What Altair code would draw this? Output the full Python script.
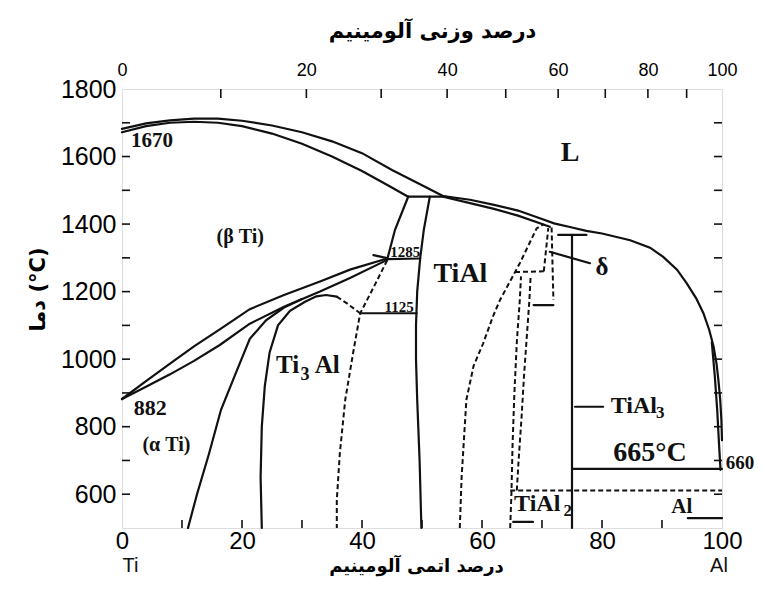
import altair as alt
import pandas as pd

W, H = 600, 439

# ---------------- phase-boundary curves (atomic % Al, temperature in °C) ----------------
liq_ti_a = [0, 4, 8, 12, 16, 20, 25, 30, 35, 40, 45, 50, 53.5]
liq_ti_T = [1682, 1698, 1707, 1712, 1712, 1706, 1692, 1672, 1645, 1610, 1560, 1515, 1483]
sol_b_a = [0, 4, 8, 12, 16, 20, 25, 30, 35, 40, 44, 47.7]
sol_b_T = [1672, 1690, 1700, 1703, 1700, 1690, 1668, 1638, 1600, 1557, 1518, 1481]
perit_a = [47.7, 54]
perit_T = [1481, 1481]
liq_al_a = [53.5, 58, 62, 66, 70, 72, 75, 77.4, 80, 84.7, 88, 90.2, 92.5, 94.1, 95.7,
            96.9, 97.9, 98.6, 99.1, 99.4, 99.7, 99.9, 100]
liq_al_T = [1483, 1472, 1457, 1440, 1415, 1402, 1390, 1380, 1372, 1352, 1330, 1303, 1265,
            1225, 1180, 1136, 1085, 1037, 985, 938, 880, 820, 760]
sol_g_a = [53.5, 58, 62, 66, 70, 71.3]
sol_g_T = [1481, 1462, 1445, 1425, 1400, 1392]
al_solv_a = [98.3, 98.8, 99.2, 99.5, 99.75]
al_solv_T = [1050, 950, 850, 750, 672]
tial3_a = [75, 75]
tial3_T = [500, 1368]
tial3_top_a = [72.7, 77.4]
tial3_top_T = [1368, 1368]
line665_a = [75, 100]
line665_T = [675, 675]
beta_alpha_a = [47.7, 45.5, 44.2]
beta_alpha_T = [1481, 1383, 1295]
tial_left_a = [51.3, 50.3, 49.7, 49.2, 49.0, 49.0, 49.2, 49.6, 49.9]
tial_left_T = [1481, 1383, 1299, 1200, 1100, 1000, 880, 700, 500]
line1285_a = [44.2, 49.7]
line1285_T = [1296, 1298]
line1125_a = [39.7, 49.1]
line1125_T = [1136, 1136]
beta_up_a = [0, 4, 8, 12, 16.3, 21.3, 27, 33, 38, 44.2]
beta_up_T = [882, 935, 987, 1038, 1088, 1148, 1190, 1230, 1265, 1298]
beta_lo_a = [0, 4, 8, 12, 16.3, 21.3, 27, 33, 38, 44.2]
beta_lo_T = [882, 918, 955, 995, 1042, 1105, 1155, 1200, 1240, 1294]
a2_out_a = [11, 12.5, 14.5, 16.5, 19, 21.3, 24, 27, 30]
a2_out_T = [500, 600, 720, 850, 960, 1060, 1115, 1153, 1178]
a2_in_a = [23.3, 23.1, 23.3, 23.8, 24.6, 26, 28, 30.5, 32.4, 34, 35.8]
a2_in_T = [500, 650, 800, 920, 1020, 1100, 1143, 1170, 1186, 1190, 1185]
bracket_a = [68.6, 71.9]
bracket_T = [1160, 1160]
delta_arr_a = [71.3, 78]
delta_arr_T = [1318, 1284]
tial3_arr_a = [75.5, 80.2]
tial3_arr_T = [859, 859]
al_arr_a = [94.3, 100]
al_arr_T = [529, 529]
arr1285_a = [41.9, 44.0]
arr1285_T = [1308, 1300]
tial2_bar_a = [65.2, 68.5]
tial2_bar_T = [518, 518]

# dashed curves
a2_dash_a = [35.8, 37.5, 39.7]
a2_dash_T = [1185, 1165, 1136]
g_dash_a = [44.2, 42, 39.7, 38.6, 37.2, 36.3, 35.8, 35.8]
g_dash_T = [1293, 1215, 1136, 1027, 879, 720, 583, 500]
d1_a = [56.3, 56.6, 57.4, 58.6, 60.2, 61.9, 63, 66.3, 69.1, 70.3]
d1_T = [500, 650, 880, 980, 1047, 1130, 1175, 1284, 1387, 1400]
d2_a = [64.7, 64.9, 65.1, 65.4, 65.8, 66.3, 66.5]
d2_T = [500, 600, 750, 900, 1050, 1175, 1245]
d3_a = [65.8, 66.1, 66.6, 67.0, 67.4, 67.9, 68.1]
d3_T = [611, 700, 830, 950, 1050, 1175, 1245]
dh1_a = [65.5, 70.3]
dh1_T = [1258, 1260]
dv1_a = [70.3, 71.05]
dv1_T = [1260, 1388]
dv2_a = [71.6, 71.9]
dv2_T = [1390, 1175]
h611_a = [64.7, 100]
h611_T = [611, 611]

solid_curves = [
    ("liq_ti", liq_ti_a, liq_ti_T), ("sol_b", sol_b_a, sol_b_T), ("perit", perit_a, perit_T),
    ("liq_al", liq_al_a, liq_al_T), ("sol_g", sol_g_a, sol_g_T), ("al_solv", al_solv_a, al_solv_T),
    ("tial3", tial3_a, tial3_T), ("tial3_top", tial3_top_a, tial3_top_T),
    ("l665", line665_a, line665_T), ("beta_alpha", beta_alpha_a, beta_alpha_T),
    ("tial_left", tial_left_a, tial_left_T), ("l1285", line1285_a, line1285_T),
    ("l1125", line1125_a, line1125_T), ("beta_up", beta_up_a, beta_up_T),
    ("beta_lo", beta_lo_a, beta_lo_T), ("a2_out", a2_out_a, a2_out_T),
    ("a2_in", a2_in_a, a2_in_T), ("bracket", bracket_a, bracket_T),
    ("delta_arr", delta_arr_a, delta_arr_T), ("tial3_arr", tial3_arr_a, tial3_arr_T),
    ("al_arr", al_arr_a, al_arr_T), ("arr1285", arr1285_a, arr1285_T),
    ("tial2_bar", tial2_bar_a, tial2_bar_T),
]
dashed_curves = [
    ("a2_dash", a2_dash_a, a2_dash_T), ("g_dash", g_dash_a, g_dash_T), ("d1", d1_a, d1_T),
    ("d2", d2_a, d2_T), ("d3", d3_a, d3_T), ("dh1", dh1_a, dh1_T), ("dv1", dv1_a, dv1_T),
    ("dv2", dv2_a, dv2_T), ("h611", h611_a, h611_T),
]


def to_df(curves):
    rows = []
    for name, xa, ta in curves:
        for i, (a, t) in enumerate(zip(xa, ta)):
            rows.append({"curve": name, "i": i, "a": a, "T": t})
    return pd.DataFrame(rows)


solid_df = to_df(solid_curves)
dashed_df = to_df(dashed_curves)

# ---------------- in-plot labels ----------------
lab_text = ["1670", "(β Ti)", "1285", "1125", "TiAl", "L", "Ti", "3", "Al", "882", "(α Ti)",
            "δ", "TiAl", "3", "665°C", "660", "TiAl", "2", "Al"]
lab_a = [5.0, 19.7, 47.2, 46.2, 56.4, 74.7, 27.6, 30.5, 34.2, 4.7, 7.4,
         80.0, 85.3, 89.7, 88.0, 103.0, 69.2, 74.3, 93.3]
lab_T = [1646, 1363, 1318, 1155, 1252, 1611, 983, 954, 983, 855, 746,
         1274, 860, 840, 722, 693, 571, 550, 563]
lab_size = [21, 20, 15, 15, 28, 28, 25, 18, 25, 22, 20,
            25, 24, 17, 28, 19, 24, 17, 21]
labels_df = pd.DataFrame({"text": lab_text, "a": lab_a, "T": lab_T, "fs": lab_size})

end_text = ["Ti", "Al"]
end_a = [1.4, 99.5]
end_T = [386, 386]
ends_df = pd.DataFrame({"text": end_text, "a": end_a, "T": end_T})

# ---------------- axes ----------------
x_labels = [0, 20, 40, 60, 80, 100]
y_labels = [600, 800, 1000, 1200, 1400, 1600, 1800]
y_minor = [600, 700, 800, 900, 1000, 1100, 1200, 1300, 1400, 1500, 1600, 1700]
x_minor = [10, 20, 30, 40, 50, 60, 70, 80, 90]
wt_labels = [0, 20, 40, 60, 80, 100]
wt_minor = [10, 20, 30, 40, 50, 60, 70, 80, 90]
M_AL, M_TI = 26.98, 47.87


def wt_to_at(w):
    if w <= 0:
        return 0.0
    if w >= 100:
        return 100.0
    na = w / M_AL
    nt = (100 - w) / M_TI
    return 100 * na / (na + nt)


wt_label_pos = [wt_to_at(w) for w in wt_labels]
wt_tick_pos = [wt_to_at(w) for w in wt_minor]

xs = alt.Scale(domain=[0, 100], nice=False, zero=False)
ys = alt.Scale(domain=[500, 1800], nice=False, zero=False)

bottom_axis = alt.Axis(orient="bottom", values=x_labels, format="d", title="درصد اتمی آلومینیم",
                       labelFont="Liberation Sans", labelFontSize=24, labelColor="black",
                       labelPadding=1, labelFlush=False, labelOverlap=False,
                       ticks=False, domain=False, grid=False,
                       titleFont="DejaVu Sans", titleFontSize=18, titleFontWeight="bold",
                       titleColor="black", titleY=43, titleX=294, titleBaseline="alphabetic")
top_axis = alt.Axis(orient="top", values=wt_label_pos,
                    labelExpr="format(round(100*datum.value*26.98/(datum.value*26.98+(100-datum.value)*47.87)),'d')",
                    title="درصد وزنی آلومینیم",
                    labelFont="Liberation Sans", labelFontSize=18, labelColor="black",
                    labelPadding=10, labelFlush=False, labelOverlap=False,
                    ticks=False, domain=False, grid=False,
                    titleFont="DejaVu Sans", titleFontSize=21, titleFontWeight="bold",
                    titleColor="black", titleY=-52, titleX=310, titleBaseline="alphabetic")
left_axis = alt.Axis(orient="left", values=y_labels, format="d", title="دما (°C)",
                     labelFont="Liberation Sans", labelFontSize=25, labelColor="black",
                     labelPadding=6, labelOverlap=False,
                     ticks=False, domain=False, grid=False,
                     titleFont="DejaVu Sans", titleFontSize=21, titleFontWeight="bold",
                     titleColor="black", titleAngle=270, titleX=-84, titleY=200,
                     titleAlign="center", titleBaseline="middle")


def X(field, axis=None):
    return alt.X(field, type="quantitative", scale=xs, axis=axis)


def Y(field):
    return alt.Y(field, type="quantitative", scale=ys, axis=left_axis)


ink = "#111111"

solid = alt.Chart(solid_df).mark_line(color=ink, strokeWidth=2.2, strokeCap="round").encode(
    x=X("a", bottom_axis), y=Y("T"), detail="curve:N", order="i:Q")

dashed = alt.Chart(dashed_df).mark_line(color=ink, strokeWidth=2, strokeDash=[5, 3]).encode(
    x=X("a"), y=Y("T"), detail="curve:N", order="i:Q")

labels = alt.Chart(labels_df).mark_text(font="Liberation Serif", fontWeight="bold", color=ink,
                                        align="center", baseline="middle").encode(
    x=X("a"), y=Y("T"), text="text:N", size=alt.Size("fs:Q", scale=None, legend=None))

ends = alt.Chart(ends_df).mark_text(font="Liberation Sans", fontSize=20, color=ink,
                                    align="center", baseline="middle").encode(
    x=X("a"), y=Y("T"), text="text:N")

ymin_df = pd.DataFrame({"v": y_minor})
xmin_df = pd.DataFrame({"v": x_minor})
wtmin_df = pd.DataFrame({"v": wt_tick_pos})

left_ticks = alt.Chart(ymin_df).mark_rule(color=ink, strokeWidth=1.6).encode(
    y=Y("v"), x=alt.value(0), x2=alt.value(8))
right_ticks = alt.Chart(ymin_df).mark_rule(color=ink, strokeWidth=1.6).encode(
    y=Y("v"), x=alt.value(W - 8), x2=alt.value(W))
bottom_ticks = alt.Chart(xmin_df).mark_rule(color=ink, strokeWidth=1.6).encode(
    x=X("v"), y=alt.value(H), y2=alt.value(H - 8))
top_ticks = alt.Chart(wtmin_df).mark_rule(color=ink, strokeWidth=1.6).encode(
    x=X("v", top_axis), y=alt.value(0), y2=alt.value(9))

chart = alt.layer(
    solid, top_ticks, dashed, labels, ends, left_ticks, right_ticks, bottom_ticks
).resolve_axis(x="independent").properties(
    width=W, height=H,
    autosize=alt.AutoSizeParams(type="none"),
    padding={"left": 114, "top": 81, "right": 33, "bottom": 52},
).configure_view(stroke="black", strokeWidth=2.2).configure(background="white")

chart.save("out.html", embed_options={"renderer": "svg", "actions": False})
